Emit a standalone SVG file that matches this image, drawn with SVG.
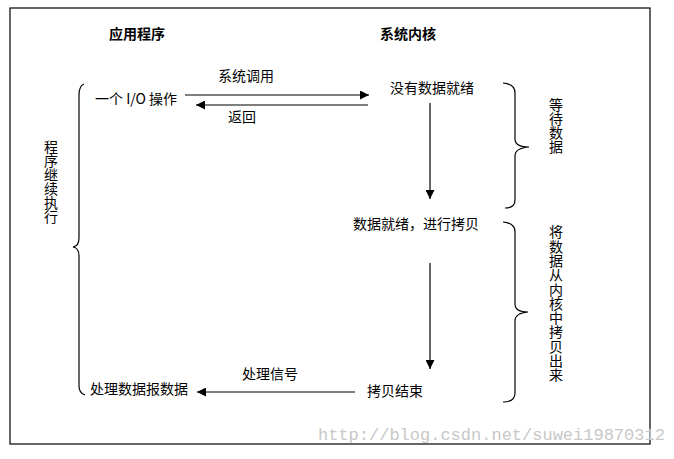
<svg xmlns="http://www.w3.org/2000/svg" width="674" height="459" viewBox="0 0 674 459">
<style>
.t{font-family:"Noto Sans CJK SC","Liberation Sans",sans-serif;font-size:14px;fill:#000}
.b{font-weight:bold}
.v{font-family:"Noto Sans CJK SC","Liberation Sans",sans-serif;font-size:14px;fill:#000;writing-mode:vertical-rl}
.ln{stroke:#000;stroke-width:1.2;fill:none}
.br{stroke:#000;stroke-width:1.2;fill:none}
.wm{font-family:"Liberation Mono",monospace;font-size:17px;fill:#c8c8c8}
</style>
<defs>
<marker id="ah" viewBox="0 0 10 10" refX="10" refY="5" markerWidth="9" markerHeight="9" markerUnits="userSpaceOnUse" orient="auto">
<path d="M0,0 L10,5 L0,10 Z" fill="#000"/>
</marker>
</defs>
<rect x="0" y="0" width="674" height="459" fill="#fff"/>
<rect x="10" y="8" width="640" height="436" fill="none" stroke="#000" stroke-width="1.2"/>
<text class="wm" x="318" y="440">http://blog.csdn.net/suwei19870312</text>
<g id="title-app"><text class="t b" x="109" y="39">应用程序</text></g>
<g id="title-kernel"><text class="t b" x="380" y="39">系统内核</text></g>
<g id="io-op"><text class="t" x="95" y="104">一个 I/O 操作</text></g>
<g id="no-data"><text class="t" x="390" y="93">没有数据就绪</text></g>
<g id="data-ready"><text class="t" x="353" y="229">数据就绪，进行拷贝</text></g>
<g id="copy-done"><text class="t" x="367" y="396">拷贝结束</text></g>
<g id="process-data"><text class="t" x="90" y="394">处理数据报数据</text></g>
<g id="program-continue">
<path class="br" d="M84,84 Q79,86 79,95 L79,238 Q79,246 73,247 Q79,248 79,256 L79,386 Q79,393 85,395"/>
<text class="v" x="51" y="140">程序继续执行</text>
</g>
<g id="wait-data">
<path class="br" d="M503,83 Q515,84 515,93 L515,139 Q515,147 529,147 Q515,148 515,156 L515,200 Q515,208 505,208"/>
<text class="v" x="556" y="98">等待数据</text>
</g>
<g id="copy-data">
<path class="br" d="M503,222 Q515,223 515,232 L515,304 Q515,312 528,312 Q515,313 515,321 L515,393 Q515,402 503,402"/>
<text class="v" x="556" y="225" letter-spacing="0.3">将数据从内核中拷贝出来</text>
</g>
<g id="connectors">
<line class="ln" x1="185" y1="95" x2="369" y2="95" marker-end="url(#ah)"/>
<text class="t" x="218" y="81">系统调用</text>
<line class="ln" x1="368" y1="105" x2="196" y2="105" marker-end="url(#ah)"/>
<text class="t" x="228" y="122">返回</text>
<line class="ln" x1="430" y1="103" x2="430" y2="199" marker-end="url(#ah)"/>
<line class="ln" x1="430" y1="263" x2="430" y2="369" marker-end="url(#ah)"/>
<line class="ln" x1="355" y1="392" x2="197" y2="392" marker-end="url(#ah)"/>
<text class="t" x="242" y="379">处理信号</text>
</g>
</svg>
